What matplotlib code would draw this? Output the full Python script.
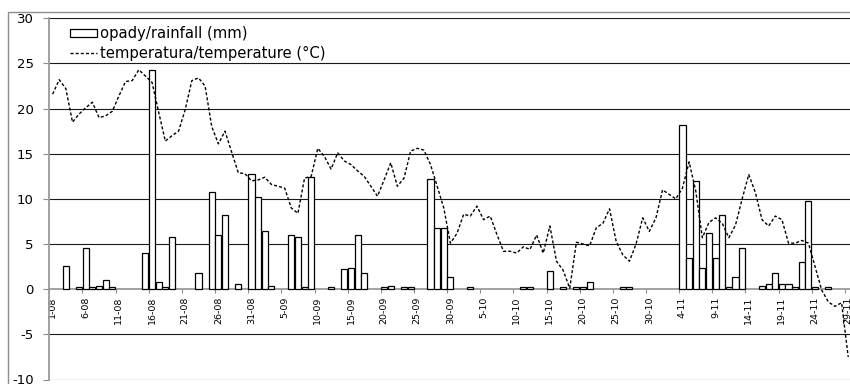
import matplotlib
matplotlib.use('Agg')
import matplotlib.pyplot as plt
import numpy as np
from matplotlib.patches import Rectangle

plt.rcParams['font.family'] = ['DejaVu Sans']

# daily rainfall (mm), 1-08 ... 29-11
rain = [
    0, 0, 2.6, 0, 0.2, 4.6, 0.2, 0.4, 1.0, 0.2,
    0, 0, 0, 0, 4.0, 24.3, 0.8, 0.2, 5.8, 0,
    0, 0, 1.8, 0, 10.8, 6.0, 8.2, 0, 0.6, 0,
    12.8, 10.2, 6.4, 0.4, 0, 0, 6.0, 5.8, 0.2, 12.4,
    0, 0, 0.2, 0, 2.2, 2.4, 6.0, 1.8, 0, 0,
    0.2, 0.4, 0, 0.2, 0.2, 0, 0, 12.2, 6.8, 6.8,
    1.4, 0, 0, 0.2, 0, 0, 0, 0, 0, 0,
    0, 0.2, 0.2, 0, 0, 2.0, 0, 0.2, 0, 0.2,
    0.2, 0.8, 0, 0, 0, 0, 0.2, 0.2, 0, 0,
    0, 0, 0, 0, 0, 18.2, 3.4, 12.0, 2.4, 6.2,
    3.4, 8.2, 0.2, 1.4, 4.6, 0, 0, 0.4, 0.6, 1.8,
    0.6, 0.6, 0.2, 3.0, 9.8, 0.2, 0, 0.2, 0, 0,
    0,
]

# daily mean temperature (°C)
temp = [
    21.6, 23.2, 22.2, 18.5, 19.4, 20.1, 20.7, 19.0, 19.2, 19.7,
    21.4, 23.0, 23.1, 24.3, 23.6, 22.9, 19.6, 16.4, 17.0, 17.5,
    19.9, 23.1, 23.4, 22.5, 18.0, 16.1, 17.5, 15.2, 12.9, 12.8,
    12.0, 12.1, 12.4, 11.6, 11.4, 11.2, 9.0, 8.4, 12.3, 12.5,
    15.6, 14.7, 13.3, 15.1, 14.2, 13.8, 13.1, 12.5, 11.4, 10.3,
    12.1, 14.0, 11.4, 12.3, 15.3, 15.6, 15.4, 13.8, 11.4, 9.0,
    5.1, 6.2, 8.3, 8.1, 9.2, 7.7, 8.1, 6.1, 4.2, 4.2,
    4.0, 4.7, 4.4, 6.0, 4.0, 7.0, 3.1, 2.1, 0.1, 5.2,
    5.0, 4.8, 6.8, 7.3, 8.9, 5.3, 3.8, 3.1, 5.0, 7.9,
    6.4, 7.9, 11.0, 10.5, 10.0, 11.2, 14.1, 10.9, 5.7, 7.4,
    7.9, 7.3, 5.7, 7.1, 10.0, 12.7, 10.7, 7.7, 7.0, 8.1,
    7.7, 5.1, 5.1, 5.4, 5.1, 2.5, -0.1, -1.4, -1.9, -1.5,
    -7.5,
]

tick_labels = ['1-08', '6-08', '11-08', '16-08', '21-08', '26-08', '31-08',
               '5-09', '10-09', '15-09', '20-09', '25-09', '30-09',
               '5-10', '10-10', '15-10', '20-10', '25-10', '30-10',
               '4-11', '9-11', '14-11', '19-11', '24-11', '29-11']
label_step = 5

rain_label = 'opady/rainfall (mm)'
temp_label = 'temperatura/temperature (°C)'

y_ticks = [-10, -5, 0, 5, 10, 15, 20, 25, 30]

days = np.arange(len(temp))
rain_arr = np.array(rain, dtype=float)
mask = rain_arr > 0

fig = plt.figure(figsize=(8.5, 3.84), dpi=100)
fig.patch.set_facecolor('white')

# outer chart border
fig.patches.append(Rectangle((8 / 850, -0.1), 1.2, (1 - 12 / 384) + 0.1,
                             transform=fig.transFigure, fill=False,
                             edgecolor='#8c8c8c', lw=1.0, zorder=0))

ax = fig.add_axes([49.3 / 850, 1 - 379.5 / 384, 1 - 49.3 / 850, (379.5 - 18.3) / 384])
ax.set_facecolor('white')

bars = ax.bar(days[mask], rain_arr[mask], width=0.92, facecolor='white',
              edgecolor='black', linewidth=0.9, zorder=3, label=rain_label)
line, = ax.plot(days, temp, color='black', lw=1.0, linestyle=(0, (2.2, 1.5)),
                zorder=4, label=temp_label)

ax.set_ylim(-10, 30)
ax.set_xlim(-0.5, -0.5 + (850 - 49.3) / 6.63)

ax.set_yticks(y_ticks)
ax.set_yticklabels([str(v) for v in y_ticks])
ax.tick_params(axis='y', direction='out', length=4.3, width=0.8,
               color='#8c8c8c', pad=7, labelsize=9.5)

# grid lines
for v in y_ticks:
    if v != 0:
        ax.axhline(v, color='#1a1a1a', lw=0.8, zorder=1)

for s in ['top', 'right']:
    ax.spines[s].set_visible(False)
ax.spines['left'].set_color('#9a9a9a')
ax.spines['left'].set_linewidth(1.3)
ax.spines['bottom'].set_position(('data', 0))
ax.spines['bottom'].set_color('#9a9a9a')
ax.spines['bottom'].set_linewidth(1.3)
ax.spines['bottom'].set_zorder(2)

# tick marks at category boundaries, labels at category centres
n = len(temp)
ax.set_xticks(np.arange(-0.5, n, label_step))
ax.set_xticklabels([])
ax.set_xticks(days[::label_step], minor=True)
ax.set_xticklabels(tick_labels, minor=True, rotation=90, fontsize=6.8)
ax.tick_params(axis='x', which='major', direction='out', length=3,
               width=0.8, color='#8c8c8c')
ax.tick_params(axis='x', which='minor', length=0, pad=5)

leg = ax.legend([bars, line], [rain_label, temp_label],
                loc='upper left', bbox_to_anchor=(0.026, 0.978),
                frameon=False, fontsize=10.6, handlelength=1.8,
                handleheight=0.38, handletextpad=0.25, labelspacing=0.3,
                borderpad=0, borderaxespad=0)

fig.savefig('out.png', dpi=100, facecolor='white')
